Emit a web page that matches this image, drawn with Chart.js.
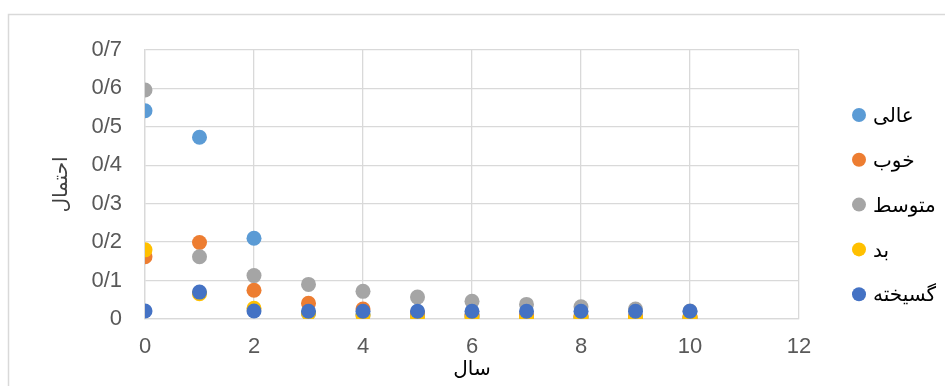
<!DOCTYPE html>
<html>
<head>
<meta charset="utf-8">
<script src="https://cdn.jsdelivr.net/npm/chart.js@4"></script>
<style>
  html, body { margin: 0; padding: 0; background: #ffffff; }
  #wrap { position: relative; width: 945px; height: 386px; }
  canvas { display: block; }
</style>
</head>
<body>
<div id="wrap"><canvas id="c" width="945" height="386"></canvas></div>
<script>
// ---- data ----
const years = [0, 1, 2, 3, 4, 5, 6, 7, 8, 9, 10];
const seriesNames = ['عالی', 'خوب', 'متوسط', 'بد', 'گسیخته'];
const aali      = [0.542, 0.473, 0.210, 0.015, 0.012, 0.010, 0.008, 0.006, 0.005, 0.004, 0.003];
const khoob     = [0.162, 0.199, 0.075, 0.041, 0.026, 0.016, 0.012, 0.010, 0.008, 0.007, 0.006];
const motavasset= [0.596, 0.162, 0.113, 0.090, 0.072, 0.057, 0.046, 0.038, 0.032, 0.026, 0.021];
const bad       = [0.180, 0.066, 0.028, 0.015, 0.009, 0.005, 0.004, 0.004, 0.004, 0.004, 0.004];
const gosikhte  = [0.021, 0.070, 0.021, 0.020, 0.020, 0.020, 0.020, 0.020, 0.020, 0.020, 0.020];
const yTickLabels = ['0', '0/1', '0/2', '0/3', '0/4', '0/5', '0/6', '0/7'];
const xTickLabels = ['0', '2', '4', '6', '8', '10', '12'];
const xTitle = 'سال';
const yTitle = 'احتمال';
const colors = ['#5B9BD5', '#ED7D31', '#A5A5A5', '#FFC000', '#4472C4'];

const allSeries = [aali, khoob, motavasset, bad, gosikhte];
const datasets = allSeries.map((vals, i) => ({
  label: seriesNames[i],
  data: vals.map((v, j) => ({ x: years[j], y: v })),
  backgroundColor: colors[i],
  borderColor: colors[i],
  borderWidth: 0,
  pointRadius: 7.5,
  pointHoverRadius: 7.5,
  order: allSeries.length - 1 - i
}));

const GRID = '#d9d9d9';
const ARABIC_FONT = "'DejaVu Sans', 'Noto Sans', sans-serif";
const NUM_FONT = "'Liberation Sans', Arial, sans-serif";

const frame = {
  id: 'frame',
  beforeDraw(chart) {
    const ctx = chart.ctx;
    ctx.save();
    ctx.fillStyle = '#ffffff';
    ctx.fillRect(0, 0, chart.width, chart.height);
    ctx.strokeStyle = GRID;
    ctx.lineWidth = 1.5;
    ctx.strokeRect(8.5, 14.5, 2000, 2000);
    ctx.restore();
  }
};

const sideLegend = {
  id: 'sideLegend',
  afterDraw(chart) {
    const ctx = chart.ctx;
    ctx.save();
    const cx = 859, y0 = 115, step = 44.8;
    chart.data.datasets.forEach((ds, i) => {
      const cy = y0 + i * step;
      ctx.beginPath();
      ctx.fillStyle = ds.backgroundColor;
      ctx.arc(cx, cy, 7, 0, Math.PI * 2);
      ctx.fill();
      ctx.fillStyle = '#000000';
      ctx.font = '20px ' + ARABIC_FONT;
      ctx.textAlign = 'left';
      ctx.textBaseline = 'middle';
      ctx.fillText(ds.label, 873, cy + 2);
    });
    ctx.restore();
  }
};

new Chart(document.getElementById('c'), {
  type: 'scatter',
  data: { datasets },
  options: {
    responsive: false,
    animation: false,
    devicePixelRatio: 1,
    layout: { padding: { left: 50, top: 50, right: 146, bottom: 4 } },
    plugins: {
      legend: { display: false },
      tooltip: { enabled: false }
    },
    scales: {
      x: {
        type: 'linear',
        min: 0, max: 12,
        afterFit(scale) { scale.height = 63; },
        ticks: {
          stepSize: 2,
          padding: 15,
          color: '#595959',
          font: { family: NUM_FONT, size: 22 },
          callback: (v) => xTickLabels[Math.round(v / 2)]
        },
        grid: { color: GRID, lineWidth: 1.3, drawTicks: false },
        border: { color: GRID, width: 1.3 },
        title: {
          display: true,
          text: xTitle,
          color: '#000000',
          font: { family: ARABIC_FONT, size: 20 },
          padding: { top: 0, bottom: 0 }
        }
      },
      y: {
        type: 'linear',
        min: 0, max: 0.7,
        afterFit(scale) { scale.width = 95; },
        ticks: {
          stepSize: 0.1,
          padding: 23,
          color: '#595959',
          font: { family: NUM_FONT, size: 22 },
          callback: (v) => yTickLabels[Math.round(v * 10)]
        },
        grid: { color: GRID, lineWidth: 1.3, drawTicks: false },
        border: { color: GRID, width: 1.3 },
        title: {
          display: true,
          text: yTitle,
          color: '#404040',
          font: { family: ARABIC_FONT, size: 20 },
          padding: { top: 0, bottom: 0 }
        }
      }
    }
  },
  plugins: [frame, sideLegend]
});
</script>
</body>
</html>
